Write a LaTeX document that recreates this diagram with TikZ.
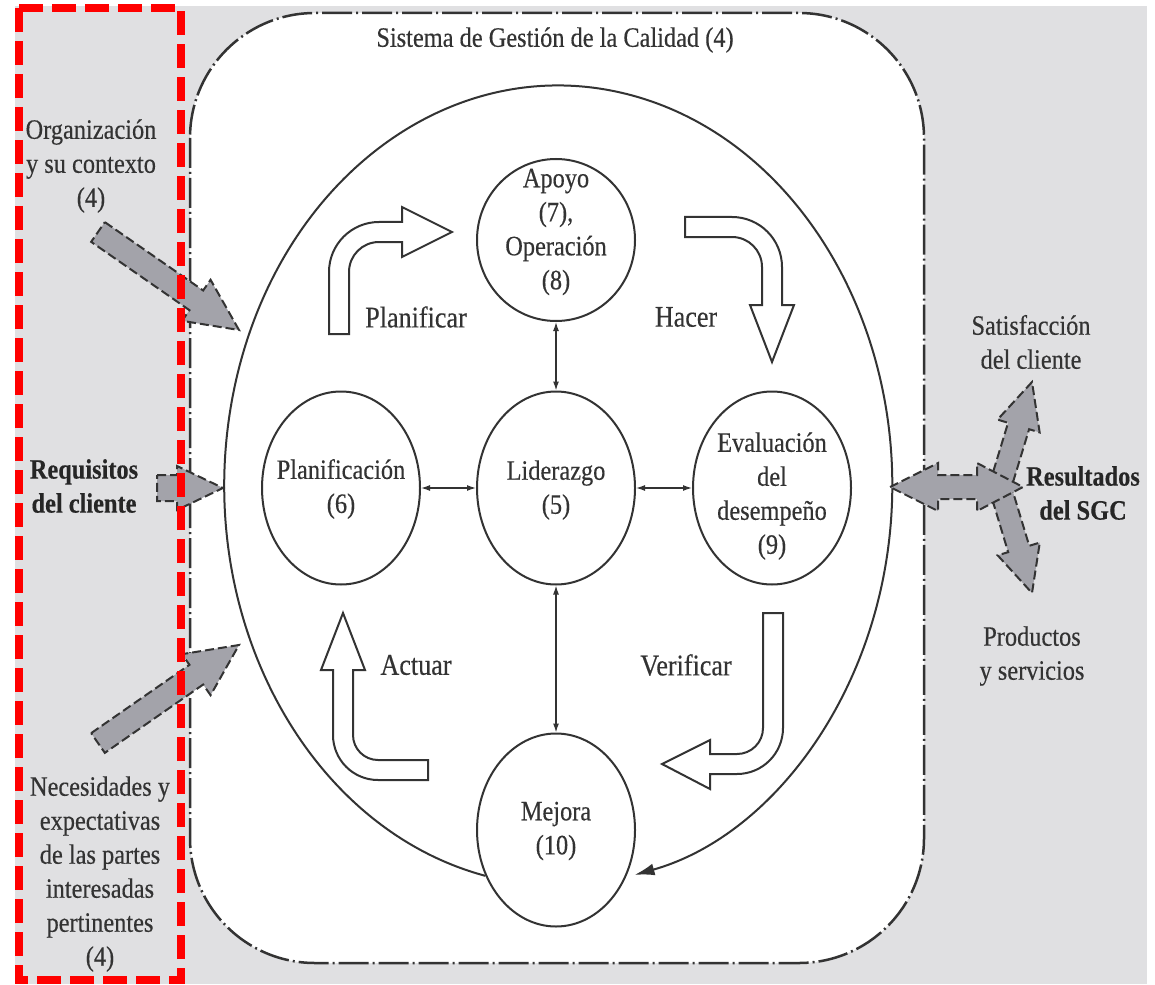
\documentclass[tikz,border=0pt]{standalone}
\usepackage{fontspec}
\setmainfont{Liberation Serif}[FakeStretch=0.87, FakeBold=0.35]
\usetikzlibrary{calc,arrows.meta,shapes.geometric}
\definecolor{ink}{HTML}{333333}
\definecolor{bggray}{HTML}{E0E0E2}
\definecolor{arrgray}{HTML}{A3A3AA}

% straight block arrow: tail, tip, shaft half width, head half width, head length
\newcommand{\blockarrow}[5]{%
  \coordinate (ba-h) at ($(#2)!#5!(#1)$);
  \draw[grayarrow] ($(#1)!#3!90:(#2)$) -- ($(ba-h)!#3!-90:(#1)$)
    -- ($(ba-h)!#4!-90:(#1)$) -- (#2) -- ($(ba-h)!#4!90:(#1)$)
    -- ($(ba-h)!#3!90:(#1)$) -- ($(#1)!#3!-90:(#2)$) -- cycle;}

\begin{document}
\begin{tikzpicture}[x=1pt,y=-1pt,
  txt/.style={font=\fontsize{28}{34}\selectfont, text=ink, align=center, inner sep=0pt},
  boldtxt/.style={txt, text=black!85, font=\fontsize{28}{34}\selectfont\bfseries},
  pdca/.style={txt, font=\fontsize{30}{34}\selectfont},
  proc/.style={ellipse, draw=ink, line width=2pt, fill=white, inner sep=0pt,
    minimum width=158pt, minimum height=193pt},
  link/.style={draw=ink, line width=1.3pt,
    {Latex[length=9pt,width=6pt]}-{Latex[length=9pt,width=6pt]}},
  bentarrow/.style={draw=ink, line width=2pt, fill=white, line join=miter},
  grayarrow/.style={draw=ink, fill=arrgray, line width=2pt,
    dash pattern=on 9pt off 4pt, line join=miter}]

\useasboundingbox (0,0) rectangle (1155,984);
\fill[white] (0,0) rectangle (1155,984);
\fill[bggray] (15,6) rectangle (1147,984);

% quality management system frame
\draw[ink, line width=2.5pt, fill=white, rounded corners=125pt,
  dash pattern=on 30pt off 4pt on 2pt off 4pt] (190,13) rectangle (924,963);
\node[txt] (title) at (555,40) {Sistema de Gestión de la Calidad (4)};

% process nodes
\node[proc, minimum height=162pt] (apoyo) at (556,240) {};
\node[proc] (lider) at (556,488) {};
\node[proc] (plan) at (341,488) {};
\node[proc] (eval) at (772,488) {};
\node[proc] (mejora) at (556,830) {};

\node[txt] (apoyo-t) at (556,232) {Apoyo\\(7),\\Operación\\(8)};
\node[txt] (lider-t) at (556,490) {Liderazgo\\(5)};
\node[txt] (plan-t) at (341,489) {Planificación\\(6)};
\node[txt] (eval-t) at (772,496) {Evaluación\\del\\desempeño\\(9)};
\node[txt] (mejora-t) at (556,831) {Mejora\\(10)};

% links with leadership
\draw[link] (apoyo) -- (lider);
\draw[link] (plan) -- (lider);
\draw[link] (lider) -- (eval);
\draw[link] (lider) -- (mejora);

% improvement cycle
\draw[ink, line width=2pt, -{Latex[length=20pt,width=12pt]}]
  (mejora.213) arc[start angle=-102.6, end angle=-436.8, x radius=334pt, y radius=400pt];

% PDCA bent arrows
\draw[bentarrow] (329,334) -- (329,272) arc[start angle=180, end angle=90, radius=50pt]
  -- (402,222) -- (402,207) -- (452,232) -- (402,257) -- (402,242) -- (379,242)
  arc[start angle=90, end angle=180, radius=30pt] -- (349,334) -- cycle;
\draw[bentarrow] (685,217) -- (732,217) arc[start angle=90, end angle=0, radius=50pt]
  -- (782,305) -- (794,305) -- (772,362) -- (750,305) -- (762,305) -- (762,267)
  arc[start angle=0, end angle=90, radius=30pt] -- (685,237) -- cycle;
\draw[bentarrow] (763,613) -- (783,613) -- (783,728) arc[start angle=0, end angle=-90, radius=46pt]
  -- (710,774) -- (710,789) -- (662,764) -- (710,740) -- (710,754) -- (737,754)
  arc[start angle=-90, end angle=0, radius=26pt] -- cycle;
\draw[bentarrow] (428,760) -- (378,760) arc[start angle=-90, end angle=-180, radius=25pt]
  -- (353,670) -- (365,670) -- (343,613) -- (321,670) -- (333,670) -- (333,735)
  arc[start angle=180, end angle=270, radius=45pt] -- (428,780) -- cycle;

\node[pdca] (planificar) at (416,317) {Planificar};
\node[pdca] (hacer) at (686,317) {Hacer};
\node[pdca] (actuar) at (416,665) {Actuar};
\node[pdca] (verificar) at (686,665) {Verificar};

% inputs
\node[txt] (contexto) at (91,166) {Organización\\y su contexto\\(4)};
\node[boldtxt] (requisitos) at (84,486) {Requisitos\\del cliente};
\node[txt] (partes) at (100,874) {Necesidades y\\expectativas\\de las partes\\interesadas\\pertinentes\\(4)};

\coordinate (in1a) at (98,232); \coordinate (in1b) at (239,330);
\coordinate (in2a) at (157,488); \coordinate (in2b) at (223,488);
\coordinate (in3a) at (98,743); \coordinate (in3b) at (239,645);
\blockarrow{in1a}{in1b}{12pt}{25pt}{52pt}
\blockarrow{in2a}{in2b}{13pt}{22pt}{46pt}
\blockarrow{in3a}{in3b}{12pt}{25pt}{52pt}

% outputs
\coordinate (outc) at (1000,487);
\coordinate (outup) at (1032,382);
\coordinate (outdn) at (1032,593);
\blockarrow{outc}{outup}{11pt}{22pt}{46pt}
\blockarrow{outc}{outdn}{11pt}{22pt}{46pt}
\draw[grayarrow] (890,487) -- (938,463) -- (938,475) -- (977,475) -- (977,463)
  -- (1023,487) -- (977,511) -- (977,499) -- (938,499) -- (938,511) -- cycle;

\node[txt] (satis) at (1031,342) {Satisfacción\\del cliente};
\node[boldtxt] (result) at (1083,493) {Resultados\\del SGC};
\node[txt] (productos) at (1032,656) {Productos\\y servicios};

% highlighted input column
\draw[red, line width=8pt, dash pattern=on 24pt off 9pt] (19,8) rectangle (181,980);
\end{tikzpicture}
\end{document}
